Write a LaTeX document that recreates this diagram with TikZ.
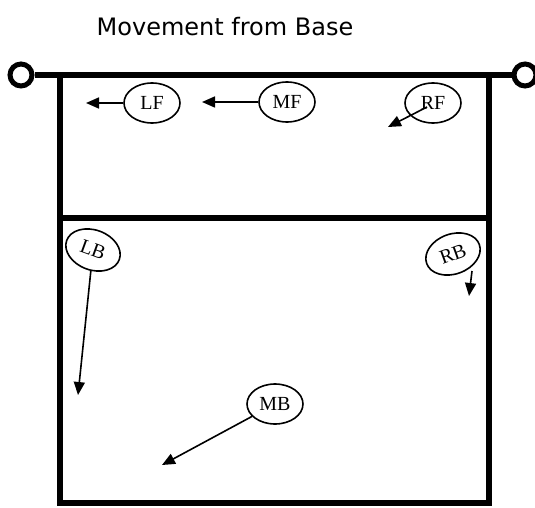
\documentclass[tikz,border=0pt]{standalone}
\usepackage{fontspec}
\setmainfont{Liberation Serif}
\newfontfamily\titlefont{DejaVu Sans}
\usetikzlibrary{shapes.geometric,arrows.meta}

\begin{document}
\begin{tikzpicture}[x=1pt,y=-1pt,
		player/.style={ellipse,draw,line width=1.6pt,minimum width=56pt,minimum height=40pt,inner sep=0pt,font=\fontsize{20}{22}\selectfont},
		move/.style={line width=1.6pt,-{Triangle[length=13pt,width=11pt]}}]
		\useasboundingbox (0,0) rectangle (535,508);
		
		\node[font=\titlefont\fontsize{24}{28}\selectfont] (title) at (225,27) {Movement from Base};
		
		% court and net
		\draw[line width=5.5pt] (60,77) -- (60,503) -- (489,503) -- (489,77);
		\draw[line width=5.5pt] (60,218) -- (489,218);
		\node[circle,draw,line width=5pt,minimum size=22pt,inner sep=0pt] (postL) at (21,75) {};
		\node[circle,draw,line width=5pt,minimum size=22pt,inner sep=0pt] (postR) at (525,75) {};
		\draw[line width=6pt] (postL) -- (postR);
		
		% players
		\node[player] (LF) at (152,103) {LF};
		\node[player] (MF) at (287,102) {MF};
		\node[player] (RF) at (433,103) {RF};
		\node[player,rotate=-20] (LB) at (93,250) {LB};
		\node[player,rotate=20] (RB) at (453,254) {RB};
		\node[player] (MB) at (275,404) {MB};
		
		\coordinate (LFto) at (86,103);
		\coordinate (MFto) at (202,102);
		\coordinate (RFto) at (388,127);
		\coordinate (LBto) at (78,395);
		\coordinate (RBto) at (469,296);
		\coordinate (MBto) at (162,465);
		
		\draw[move] (LF) -- (LFto);
		\draw[move] (MF) -- (MFto);
		\draw[move] (427,107) -- (RFto);
		\draw[move] (LB) -- (LBto);
		\draw[move] (472,271) -- (RBto);
		\draw[move] (MB) -- (MBto);
	\end{tikzpicture}
\end{document}
